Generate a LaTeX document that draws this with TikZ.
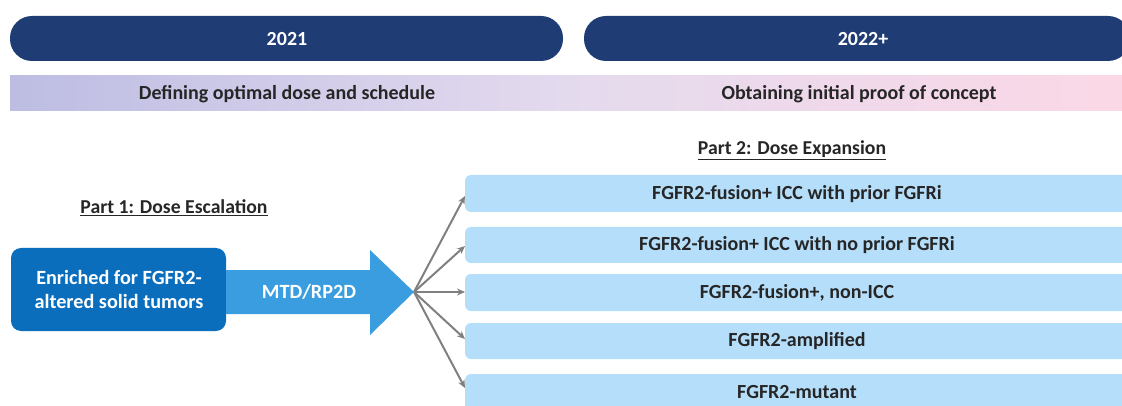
\documentclass[tikz,border=0pt]{standalone}
\usepackage{fontspec}
\setmainfont{Carlito}
\usetikzlibrary{arrows.meta}
\definecolor{navy}{HTML}{1F3C74}
\definecolor{midblue}{HTML}{0A6EBD}
\definecolor{arrowblue}{HTML}{3A9DE0}
\definecolor{lightbox}{HTML}{B5DEFA}
\definecolor{lav}{HTML}{BDBDE3}
\definecolor{mauve}{HTML}{E4DAEE}
\definecolor{pinkish}{HTML}{FBD8E6}
\definecolor{txt}{HTML}{262626}
\definecolor{fan}{HTML}{808080}
\tikzset{
  pill/.style={fill=navy, rounded corners=22pt, text=white, font=\bfseries\fontsize{20}{24}\selectfont},
  bandtext/.style={text=txt, font=\bfseries\fontsize{20}{24}\selectfont},
  heading/.style={text=txt, font=\bfseries\fontsize{19.7}{24}\selectfont},
  cohort/.style={fill=lightbox, rounded corners=6pt, text=txt, font=\bfseries\fontsize{20}{24}\selectfont},
  whitetext/.style={text=white, align=center, font=\bfseries\fontsize{20.2}{24}\selectfont},
  fanarrow/.style={draw=fan, line width=2pt, -{Stealth[length=8pt,width=7pt]}},
}
\begin{document}
\begin{tikzpicture}[x=1pt,y=-1pt]
\useasboundingbox (0,0) rectangle (1122,406);
\begin{scope}
\clip (0,0) rectangle (1122,406);
% top pills
\fill[pill] (10,16) rectangle (563,61);
\node[pill, fill=none] (y1) at (287,39) {2021};
\fill[pill] (584,16) rectangle (1130,61);
\node[pill, fill=none] (y2) at (863,39) {2022+};
% gradient band
\shade[left color=lav, right color=pinkish, middle color=mauve] (10,76) rectangle (1122,111);
\node[bandtext] (b1) at (287,94) {Defining optimal dose and schedule};
\node[bandtext] (b2) at (859,94) {Obtaining initial proof of concept};
% headings
\node[heading] (p2) at (792,150) {\underline{Part 2: Dose Expansion}};
\node[heading] (p1) at (174,208) {\underline{Part 1: Dose Escalation}};
% left box
\fill[midblue, rounded corners=10pt] (11,248) rectangle (226,331);
\node[whitetext] (src) at (119,289.5) {Enriched for FGFR2-\\altered solid tumors};
% big arrow
\fill[arrowblue] (226,270) -- (370,270) -- (370,250) -- (414,292) -- (370,335) -- (370,314) -- (226,314) -- cycle;
\node[whitetext] (mtd) at (309,292) {MTD/RP2D};
\coordinate (tip) at (414,292);
% cohort boxes
\fill[cohort] (465,175) rectangle (1135,212);
\node[cohort, fill=none] (c1) at (797,194) {FGFR2-fusion+ ICC with prior FGFRi};
\fill[cohort] (465,227) rectangle (1135,263);
\node[cohort, fill=none] (c2) at (797,245) {FGFR2-fusion+ ICC with no prior FGFRi};
\fill[cohort] (465,274) rectangle (1135,311);
\node[cohort, fill=none] (c3) at (797,293) {FGFR2-fusion+, non-ICC};
\fill[cohort] (465,323) rectangle (1135,359);
\node[cohort, fill=none] (c4) at (797,341) {FGFR2-amplified};
\fill[cohort] (465,374) rectangle (1135,420);
\node[cohort, fill=none] (c5) at (797,392) {FGFR2-mutant};
% fan arrows
\coordinate (t1) at (465,196);
\coordinate (t2) at (465,246);
\coordinate (t3) at (465,292);
\coordinate (t4) at (465,339);
\coordinate (t5) at (465,388);
\foreach \t in {t1,t2,t3,t4,t5} \draw[fanarrow] (tip) -- (\t);
\end{scope}
\end{tikzpicture}
\end{document}
